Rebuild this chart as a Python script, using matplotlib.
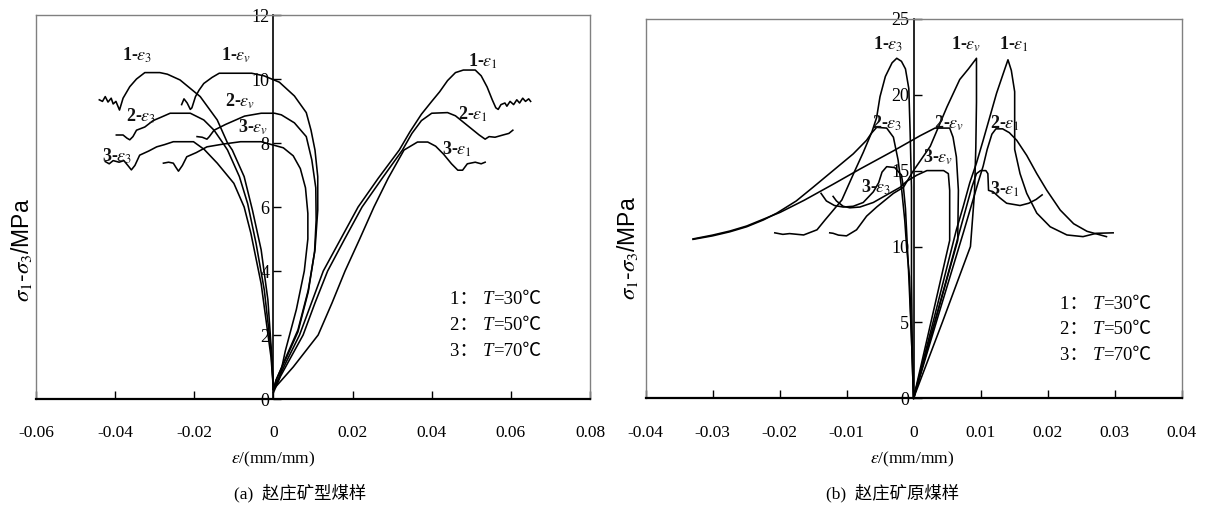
import matplotlib
matplotlib.use('Agg')
import matplotlib.pyplot as plt
from matplotlib.lines import Line2D
from matplotlib.offsetbox import TextArea, HPacker, AnnotationBbox

# ---------------- DATA: (a) 赵庄矿型煤样 ----------------
A_XTICKS = [-0.06, -0.04, -0.02, 0, 0.02, 0.04, 0.06, 0.08]
A_XLABELS = ['-0.06', '-0.04', '-0.02', '0', '0.02', '0.04', '0.06', '0.08']
A_YTICKS = [0, 2, 4, 6, 8, 10, 12]

A_1_E1 = [(0, 0.3), (0.003, 1.1), (0.0066, 2.0), (0.0096, 3.0), (0.0126, 4.0), (0.017, 5.0), (0.0214, 6.0),
          (0.0265, 6.9), (0.0318, 7.78), (0.0345, 8.35), (0.0374, 8.9), (0.040, 9.3), (0.042, 9.6), (0.044, 9.95),
          (0.046, 10.2), (0.048, 10.28), (0.051, 10.28), (0.0525, 10.1), (0.054, 9.75), (0.0553, 9.35),
          (0.0562, 9.1), (0.0568, 9.05), (0.0575, 9.2), (0.0585, 9.25), (0.059, 9.15), (0.0598, 9.3),
          (0.0607, 9.2), (0.0615, 9.35), (0.0622, 9.25), (0.063, 9.4), (0.0637, 9.3), (0.0645, 9.38), (0.065, 9.3)]
A_2_E1 = [(0, 0.3), (0.0035, 1.1), (0.0075, 2.0), (0.0105, 3.0), (0.0137, 4.0), (0.018, 5.0), (0.0224, 6.0),
          (0.0275, 6.9), (0.0326, 7.78), (0.035, 8.3), (0.0374, 8.7), (0.040, 8.93), (0.044, 8.95), (0.046, 8.85),
          (0.048, 8.65), (0.050, 8.45), (0.052, 8.25), (0.0535, 8.12), (0.0545, 8.2), (0.056, 8.18),
          (0.058, 8.25), (0.0595, 8.3), (0.0605, 8.4)]
A_3_E1 = [(0, 0.3), (0.005, 1.0), (0.0113, 2.0), (0.0148, 3.0), (0.0181, 4.0), (0.0218, 5.0), (0.0254, 6.0),
          (0.029, 6.9), (0.033, 7.78), (0.0364, 8.03), (0.039, 8.03), (0.041, 7.9), (0.043, 7.65), (0.045, 7.35),
          (0.0466, 7.15), (0.0478, 7.15), (0.049, 7.35), (0.051, 7.4), (0.0525, 7.35), (0.0535, 7.4)]
A_1_E3 = [(0, 0.3), (-0.0004, 1.3), (-0.0014, 3.1), (-0.0031, 4.66), (-0.0053, 5.9), (-0.0074, 6.95),
          (-0.0104, 7.78), (-0.0116, 8.0), (-0.0142, 8.72), (-0.0185, 9.45), (-0.0236, 9.97), (-0.0268, 10.15),
          (-0.0287, 10.2), (-0.0325, 10.2), (-0.0346, 10.0), (-0.0363, 9.76), (-0.038, 9.4), (-0.0389, 9.03),
          (-0.0398, 9.3), (-0.0405, 9.22), (-0.041, 9.4), (-0.0418, 9.28), (-0.0425, 9.45), (-0.0432, 9.3),
          (-0.044, 9.35)]
A_2_E3 = [(0, 0.3), (-0.0006, 1.53), (-0.0023, 3.4), (-0.0044, 4.87), (-0.0065, 6.1), (-0.0086, 6.95),
          (-0.0116, 7.78), (-0.0125, 7.95), (-0.015, 8.4), (-0.0176, 8.72), (-0.021, 8.93), (-0.0261, 8.93),
          (-0.0285, 8.8), (-0.0304, 8.7), (-0.0325, 8.5), (-0.0346, 8.4), (-0.0355, 8.2), (-0.0363, 8.1),
          (-0.037, 8.15), (-0.038, 8.25), (-0.0397, 8.25)]
A_3_E3 = [(0, 0.3), (-0.0006, 1.3), (-0.0031, 3.6), (-0.0057, 5.18), (-0.0074, 6.0), (-0.01, 6.74),
          (-0.0142, 7.37), (-0.0175, 7.8), (-0.0202, 8.04), (-0.0253, 8.04), (-0.0275, 7.95), (-0.0295, 7.88),
          (-0.0315, 7.75), (-0.0338, 7.62), (-0.035, 7.3), (-0.0359, 7.16), (-0.0368, 7.3), (-0.0378, 7.45),
          (-0.039, 7.4), (-0.0405, 7.45), (-0.0415, 7.35), (-0.0425, 7.42)]
A_1_EV = [(0, 0.3), (0.0007, 0.6), (0.0035, 1.4), (0.0062, 2.16), (0.0088, 3.4), (0.0105, 4.66), (0.0112, 5.9),
          (0.0112, 6.95), (0.0105, 7.78), (0.0095, 8.4), (0.0083, 8.95), (0.0053, 9.47), (0.0015, 9.9),
          (-0.0024, 10.1), (-0.0055, 10.18), (-0.0091, 10.18), (-0.0137, 10.18), (-0.0155, 10.05),
          (-0.0176, 9.86), (-0.0188, 9.65), (-0.0197, 9.45), (-0.0206, 9.1), (-0.021, 9.05), (-0.0218, 9.25),
          (-0.0226, 9.38), (-0.0232, 9.2)]
A_2_EV = [(0, 0.3), (0.0007, 0.6), (0.0035, 1.35), (0.0062, 2.1), (0.0088, 3.35), (0.0104, 4.6), (0.0108, 5.6),
          (0.0107, 6.6), (0.0097, 7.47), (0.0083, 8.2), (0.0053, 8.63), (0.002, 8.88), (0.0003, 8.93),
          (-0.0031, 8.93), (-0.0073, 8.84), (-0.0121, 8.58), (-0.015, 8.4), (-0.0162, 8.2), (-0.0168, 8.12),
          (-0.018, 8.18), (-0.0193, 8.2)]
A_3_EV = [(0, 0.2), (0.0015, 0.63), (0.003, 1.5), (0.0058, 2.8), (0.0078, 4.0), (0.0087, 5.0), (0.0087, 5.8),
          (0.0081, 6.6), (0.0068, 7.2), (0.005, 7.6), (0.0025, 7.85), (-0.0031, 8.04), (-0.0083, 8.04),
          (-0.0125, 7.97), (-0.0168, 7.88), (-0.0195, 7.7), (-0.0219, 7.57), (-0.023, 7.3), (-0.024, 7.12),
          (-0.0247, 7.25), (-0.0253, 7.37), (-0.0265, 7.4), (-0.0278, 7.37)]

A_LABELS = [('1-', '3', -0.0345, 10.75), ('1-', 'v', -0.0095, 10.75), ('1-', '1', 0.0530, 10.55),
            ('2-', '3', -0.0335, 8.85), ('2-', 'v', -0.0085, 9.3), ('2-', '1', 0.0505, 8.9),
            ('3-', '3', -0.0395, 7.6), ('3-', 'v', -0.0050, 8.5), ('3-', '1', 0.0465, 7.8)]
A_LEGEND = [('1', '30'), ('2', '50'), ('3', '70')]
A_LEG_POS = (0.0445, [3.1, 2.3, 1.5])

# ---------------- DATA: (b) 赵庄矿原煤样 ----------------
B_XTICKS = [-0.04, -0.03, -0.02, -0.01, 0, 0.01, 0.02, 0.03, 0.04]
B_XLABELS = ['-0.04', '-0.03', '-0.02', '-0.01', '0', '0.01', '0.02', '0.03', '0.04']
B_YTICKS = [0, 5, 10, 15, 20, 25]

B_1_E1 = [(0, 0), (0.0032, 5.5), (0.0064, 11.1), (0.0074, 12.6), (0.0084, 14.2), (0.0094, 15.5), (0.0104, 17.0),
          (0.0114, 18.55), (0.0124, 20.1), (0.0134, 21.4), (0.0141, 22.3), (0.0146, 21.6), (0.0151, 20.2),
          (0.0151, 16.4), (0.0159, 14.8), (0.0169, 13.5), (0.0184, 12.2), (0.0204, 11.3), (0.0229, 10.76),
          (0.0253, 10.65), (0.0273, 10.87), (0.0298, 10.9)]
B_2_E1 = [(0, 0), (0.0038, 5.6), (0.0075, 11.0), (0.0097, 14.3), (0.0104, 15.3), (0.011, 16.4), (0.0117, 17.4),
          (0.0123, 17.75), (0.0133, 17.75), (0.0143, 17.5), (0.0154, 17.0), (0.0169, 16.0), (0.0184, 14.8),
          (0.0199, 13.7), (0.0219, 12.4), (0.0239, 11.5), (0.0259, 11.0), (0.0288, 10.65)]
B_3_E1 = [(0, 0), (0.0036, 5.7), (0.0072, 11.5), (0.0087, 13.9), (0.0094, 14.8), (0.0100, 15.0), (0.0108, 15.0),
          (0.0111, 14.8), (0.0112, 13.7), (0.0119, 13.6), (0.0129, 13.2), (0.0139, 12.85), (0.0159, 12.7),
          (0.0172, 12.85), (0.0183, 13.1), (0.0192, 13.4)]
B_1_E3 = [(0, 0), (-0.0002, 4.0), (-0.0003, 8.0), (-0.0003, 13.9), (-0.0005, 17.5), (-0.0007, 20.4),
          (-0.0012, 21.7), (-0.0018, 22.2), (-0.0025, 22.4), (-0.0032, 22.1), (-0.0042, 21.2), (-0.005, 19.87),
          (-0.0055, 18.5), (-0.0062, 17.56), (-0.0075, 16.2), (-0.0087, 15.04), (-0.0107, 13.06),
          (-0.0132, 11.75), (-0.0144, 11.1), (-0.0164, 10.76), (-0.0185, 10.85), (-0.0195, 10.8), (-0.0207, 10.9)]
B_2_E3 = [(0, 0), (-0.0003, 4.0), (-0.0006, 8.0), (-0.001, 9.8), (-0.0013, 11.7), (-0.0018, 13.9),
          (-0.0023, 15.7), (-0.003, 17.2), (-0.004, 17.8), (-0.0055, 17.85), (-0.0063, 17.45), (-0.007, 17.0),
          (-0.009, 16.1), (-0.012, 15.0), (-0.015, 13.9), (-0.0175, 13.0), (-0.0204, 12.2), (-0.0224, 11.75),
          (-0.0249, 11.3), (-0.0274, 10.97), (-0.03, 10.7), (-0.0329, 10.47)]
B_3_E3 = [(0, 0), (-0.0003, 4.0), (-0.0008, 9.0), (-0.0012, 12.5), (-0.0015, 13.9), (-0.0018, 14.7),
          (-0.0028, 15.2), (-0.004, 15.26), (-0.0047, 14.9), (-0.0052, 14.2), (-0.006, 13.6), (-0.0075, 12.9),
          (-0.009, 12.65), (-0.0105, 12.6), (-0.0118, 12.7), (-0.013, 13.0), (-0.0138, 13.5)]
B_1_EV = [(0, 0), (0.0043, 5.0), (0.0085, 10.0), (0.0091, 13.5), (0.0093, 16.5), (0.0094, 19.5), (0.0094, 22.4),
          (0.0082, 21.7), (0.0069, 21.0), (0.005, 19.2), (0.0025, 16.6), (0.0, 15.0), (-0.0015, 13.9),
          (-0.003, 13.5), (-0.0055, 12.6), (-0.007, 12.0), (-0.0085, 11.1), (-0.01, 10.7), (-0.0112, 10.75),
          (-0.012, 10.87), (-0.0125, 10.9)]
B_2_EV = [(0, 0), (0.0033, 5.2), (0.0066, 10.4), (0.0067, 13.7), (0.0064, 15.9), (0.0059, 17.2), (0.0054, 17.8),
          (0.0032, 17.8), (0.001, 17.3), (-0.003, 16.3), (-0.008, 15.1), (-0.012, 14.1), (-0.0163, 13.05),
          (-0.0199, 12.25), (-0.0224, 11.8), (-0.0249, 11.35), (-0.0274, 11.02), (-0.03, 10.75), (-0.0329, 10.5)]
B_3_EV = [(0, 0), (0.0027, 5.2), (0.0054, 10.4), (0.0054, 13.7), (0.0052, 14.8), (0.0045, 15.0), (0.002, 15.0),
          (0.001, 14.8), (0.0005, 14.7), (-0.001, 14.3), (-0.002, 13.9), (-0.004, 13.4), (-0.006, 12.9),
          (-0.008, 12.6), (-0.0095, 12.55), (-0.0105, 12.65), (-0.0115, 13.0), (-0.012, 13.3)]

B_LABELS = [('1-', '3', -0.0038, 23.3), ('1-', 'v', 0.0079, 23.3), ('1-', '1', 0.0150, 23.3),
            ('2-', '3', -0.0040, 18.1), ('2-', 'v', 0.0053, 18.1), ('2-', '1', 0.0137, 18.1),
            ('3-', '3', -0.0055, 13.9), ('3-', 'v', 0.0037, 15.9), ('3-', '1', 0.0137, 13.8)]
B_LEGEND = [('1', '30'), ('2', '50'), ('3', '70')]
B_LEG_POS = (0.0218, [6.15, 4.5, 2.85])

CAPTIONS = ['(a)  赵庄矿型煤样', '(b)  赵庄矿原煤样']

# ---------------- FIGURE ----------------
plt.rcParams['font.family'] = ['Liberation Serif', 'Noto Sans CJK SC']
plt.rcParams['mathtext.fontset'] = 'stix'
SERIF_CJK = ['Liberation Serif', 'Noto Sans CJK SC']

W, H = 1213, 508
fig = plt.figure(figsize=(W / 100, H / 100), dpi=100)


def add_axes(px0, px1, py_top, py_bot):
    return fig.add_axes([px0 / W, 1 - py_bot / H, (px1 - px0) / W, (py_bot - py_top) / H])


def style(ax, xlim, ylim, xt, xl, yt):
    ax.set_xlim(*xlim)
    ax.set_ylim(*ylim)
    ax.set_xticks(xt)
    ax.set_xticklabels(xl)
    ax.set_yticks(yt)
    ax.set_yticklabels([str(v) for v in yt])
    ax.spines['left'].set_position(('data', 0))
    ax.spines['left'].set_color('black')
    ax.spines['left'].set_linewidth(1.2)
    for s in ('top', 'right'):
        ax.spines[s].set_color('#808080')
        ax.spines[s].set_linewidth(1.0)
    ax.spines['bottom'].set_color('black')
    ax.spines['bottom'].set_linewidth(1.6)
    ax.add_line(Line2D([0, 0], [0, 1], transform=ax.transAxes, color='#808080', lw=1.0, clip_on=False))
    ax.tick_params(axis='x', direction='in', length=6, width=1, pad=19, labelsize=12.5)
    ax.tick_params(axis='y', direction='in', length=6, width=1, pad=3, labelsize=13)
    ax.patch.set_alpha(0)


def draw(ax, curves):
    for c in curves:
        xs = [p[0] for p in c]
        ys = [p[1] for p in c]
        ax.plot(xs, ys, color='black', lw=1.15, solid_joinstyle='round', clip_on=False)


def labels(ax, labs):
    for pre, sub, x, y in labs:
        ax.text(x, y, pre + r'$\varepsilon_{\mathit{' + sub + '}}$', ha='center', va='center',
                fontsize=13, fontweight='bold', color='#111111')


def legend(ax, leg, pos):
    x0, ys = pos
    for (n, t), y in zip(leg, ys):
        tp = dict(fontsize=13.5, family=SERIF_CJK)
        parts = [TextArea(n + '： ', textprops=tp),
                 TextArea('T', textprops=dict(fontsize=13.5, family=SERIF_CJK, style='italic')),
                 TextArea('=' + t + '℃', textprops=tp)]
        box = HPacker(children=parts, align='baseline', pad=0, sep=0)
        ab = AnnotationBbox(box, (x0, y), xycoords='data', box_alignment=(0, 0.5), frameon=False, pad=0)
        ax.add_artist(ab)


axa = add_axes(36, 590, 15, 399)
style(axa, (-0.06, 0.08), (0, 12), A_XTICKS, A_XLABELS, A_YTICKS)
draw(axa, [A_1_E1, A_2_E1, A_3_E1, A_1_E3, A_2_E3, A_3_E3, A_1_EV, A_2_EV, A_3_EV])
labels(axa, A_LABELS)
legend(axa, A_LEGEND, A_LEG_POS)

axb = add_axes(645.5, 1181.5, 18.8, 398.3)
style(axb, (-0.04, 0.04), (0, 25), B_XTICKS, B_XLABELS, B_YTICKS)
draw(axb, [B_1_E1, B_2_E1, B_3_E1, B_1_E3, B_2_E3, B_3_E3, B_1_EV, B_2_EV, B_3_EV])
labels(axb, B_LABELS)
legend(axb, B_LEGEND, B_LEG_POS)

# axis titles
ylab = r'$\sigma_{1}$-$\sigma_{3}$/MPa'
fig.text(21 / W, 1 - 250 / H, ylab, rotation=90, ha='center', va='center', fontsize=16.5,
         family=['Liberation Sans', 'Noto Sans CJK SC'])
fig.text(627 / W, 1 - 248 / H, ylab, rotation=90, ha='center', va='center', fontsize=16.5,
         family=['Liberation Sans', 'Noto Sans CJK SC'])
xlab = r'$\varepsilon$/(mm/mm)'
fig.text(273 / W, 1 - 459 / H, xlab, ha='center', va='center', fontsize=12.5)
fig.text(912 / W, 1 - 459 / H, xlab, ha='center', va='center', fontsize=12.5)
fig.text(300 / W, 1 - 493 / H, CAPTIONS[0], ha='center', va='center', fontsize=12.5, family=SERIF_CJK)
fig.text(893 / W, 1 - 493 / H, CAPTIONS[1], ha='center', va='center', fontsize=12.5, family=SERIF_CJK)

fig.savefig('out.png', dpi=100)
